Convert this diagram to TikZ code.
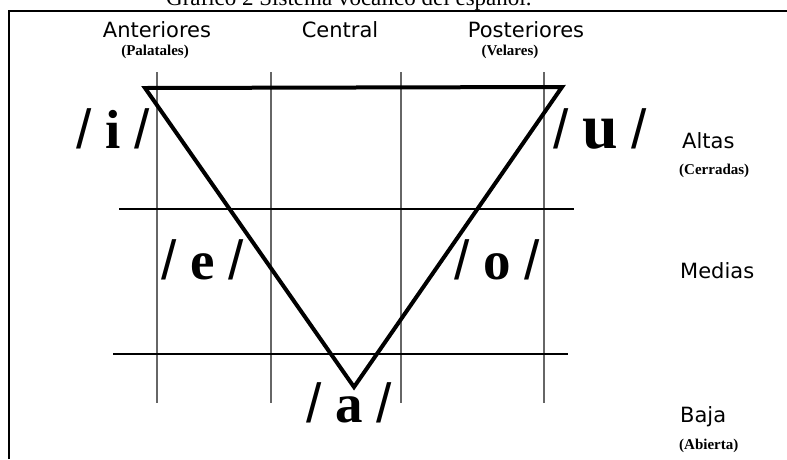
\documentclass[tikz,border=0pt]{standalone}
\usepackage{fontspec}
\setmainfont{Liberation Serif}
\newfontfamily\cabecera{DejaVu Sans}
\newfontfamily\barrafont{Liberation Sans}
\newcommand{\barra}{{\barrafont\mdseries/}}

\begin{document}
\begin{tikzpicture}[x=1pt, y=-1pt, line join=miter, every node/.style={inner sep=0pt},
    cab/.style={font=\cabecera\fontsize{21}{25}\selectfont, anchor=base},
    nota/.style={font=\bfseries\fontsize{15}{18}\selectfont, anchor=base},
    vocal/.style={font=\fontsize{55}{60}\selectfont, anchor=base},
    rejilla/.style={line width=1.5pt, black!60},
    tri/.style={line width=4pt}]
    \useasboundingbox (0,0) rectangle (787,459);
    % 1. 标题与边框
    \node[font=\fontsize{23}{27}\selectfont, anchor=base west] (tit) at (166,5) {Gráfico 2 Sistema vocálico del español.};
    \draw[line width=2pt] (9,459) -- (9,11) -- (787,11);

    % 2. 网格线
    \foreach \x in {157,271,401,544}
        \draw[rejilla] (\x,72) -- (\x,403);
    \draw[line width=1.5pt] (119,209) -- (574,209);
    \draw[line width=1.5pt] (113,354) -- (568,354);

    % 3. 元音三角形
    \coordinate (ti) at (145,88);
    \coordinate (tu) at (562,87);
    \coordinate (ta) at (354,387);
    \draw[tri] (ti) -- (tu) -- (ta) -- cycle;

    % 4. 列标题
    \node[cab] (ant) at (157,37) {Anteriores};
    \node[nota] (pal) at (155,55) {(Palatales)};
    \node[cab] (cen) at (340,37) {Central};
    \node[cab] (pos) at (526,37) {Posteriores};
    \node[nota] (vel) at (510,55) {(Velares)};

    % 5. 行标题
    \node[cab, anchor=base west] (alt) at (682,148) {Altas};
    \node[nota, anchor=base west] (cer) at (679,174) {(Cerradas)};
    \node[cab, anchor=base west] (med) at (680,278) {Medias};
    \node[cab, anchor=base west] (baj) at (680,422) {Baja};
    \node[nota, anchor=base west] (abi) at (679,449) {(Abierta)};

    % 6. 元音
    \node[vocal] (vi) at (113,148) {\barra{} \textbf{i} \barra};
    \node[vocal] (vu) at (600,148) {\barra{} {\bfseries\fontsize{64}{70}\selectfont u} \barra};
    \node[vocal] (ve) at (203,279) {\barra{} \textbf{e} \barra};
    \node[vocal] (vo) at (497,279) {\barra{} \textbf{o} \barra};
    \node[vocal] (va) at (349,422) {\barra{} \textbf{a} \barra};
\end{tikzpicture}
\end{document}
